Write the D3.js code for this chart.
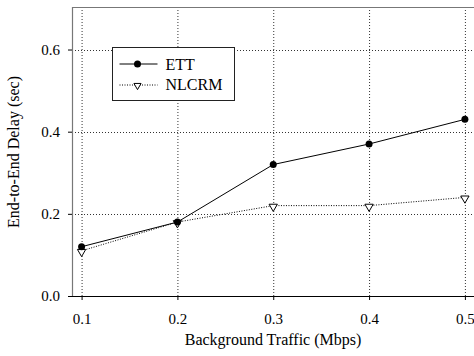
<!DOCTYPE html>
<html>
<head>
<meta charset="utf-8">
<script src="https://cdn.jsdelivr.net/npm/d3@7"></script>
<style>
  body { margin: 0; background: #fff; }
  text { font-family: "Liberation Serif", "DejaVu Serif", serif; fill: #000; }
</style>
</head>
<body>
<div id="chart"></div>
<script>
// chart data
var traffic = [0.1, 0.2, 0.3, 0.4, 0.5];
var ettDelay = [0.12, 0.18, 0.32, 0.37, 0.43];
var nlcrmDelay = [0.11, 0.18, 0.22, 0.22, 0.24];
var xTicks = [0.1, 0.2, 0.3, 0.4, 0.5];
var yTicks = [0.0, 0.2, 0.4, 0.6];

var svgWidth = 474;
var svgHeight = 356;

var margin = { top: 7, right: 0, bottom: 60, left: 72 };
var width = svgWidth - margin.left - margin.right;
var height = svgHeight - margin.top - margin.bottom;

var svg = d3.select("#chart")
  .append("svg")
  .attr("width", svgWidth)
  .attr("height", svgHeight);

var chartGroup = svg.append("g")
  .attr("transform", `translate(${margin.left}, ${margin.top})`);

var xScale = d3.scaleLinear().domain([0.09, 0.5095]).range([0, width]);
var yScale = d3.scaleLinear().domain([0, 0.7035]).range([height, 0]);

// grid lines
chartGroup.selectAll(".vgrid")
  .data(xTicks)
  .enter()
  .append("line")
  .attr("x1", d => xScale(d) + 0.5)
  .attr("x2", d => xScale(d) + 0.5)
  .attr("y1", 0)
  .attr("y2", height)
  .attr("stroke", "#333")
  .attr("stroke-dasharray", "1,2");

chartGroup.selectAll(".hgrid")
  .data(yTicks.filter(d => d > 0))
  .enter()
  .append("line")
  .attr("x1", 0)
  .attr("x2", width)
  .attr("y1", d => Math.round(yScale(d)) + 0.5)
  .attr("y2", d => Math.round(yScale(d)) + 0.5)
  .attr("stroke", "#333")
  .attr("stroke-dasharray", "1,2");

// frame (top and left)
chartGroup.append("path")
  .attr("d", `M0.5,${height} V0.5 H${width}`)
  .attr("fill", "none")
  .attr("stroke", "#777")
  .attr("stroke-width", 1.2);

// axes
var bottomAxis = d3.axisBottom(xScale)
  .tickValues(xTicks)
  .tickSize(4)
  .tickSizeOuter(0)
  .tickPadding(13)
  .tickFormat(d3.format(".1f"));

var leftAxis = d3.axisLeft(yScale)
  .tickValues(yTicks)
  .tickSize(4)
  .tickSizeOuter(0)
  .tickPadding(8)
  .tickFormat(d3.format(".1f"));

var xAxis = chartGroup.append("g")
  .attr("transform", `translate(0, ${height})`)
  .call(bottomAxis);
xAxis.select(".domain").attr("d", `M-4,0.5H${width}`).attr("stroke", "#000");
xAxis.selectAll("text").style("font-size", "15px").style("font-family", "Liberation Serif");

var yAxis = chartGroup.append("g")
  .call(leftAxis);
yAxis.select(".domain").remove();
yAxis.selectAll("text").style("font-size", "15px").style("font-family", "Liberation Serif");

// lines
var ettLine = d3.line()
  .x((d, i) => xScale(traffic[i]))
  .y(d => yScale(d));

chartGroup.append("path")
  .datum(ettDelay)
  .attr("d", ettLine)
  .attr("fill", "none")
  .attr("stroke", "#000")
  .attr("stroke-width", 1);

chartGroup.append("path")
  .datum(nlcrmDelay)
  .attr("d", ettLine)
  .attr("fill", "none")
  .attr("stroke", "#000")
  .attr("stroke-width", 1)
  .attr("stroke-dasharray", "1,1.5");

// markers
var triangle = d3.symbol().type(d3.symbolTriangle).size(30);

chartGroup.selectAll(".nlcrm")
  .data(nlcrmDelay)
  .enter()
  .append("path")
  .attr("d", triangle)
  .attr("transform", (d, i) => `translate(${xScale(traffic[i])}, ${yScale(d) + 1}) rotate(180)`)
  .attr("fill", "#fff")
  .attr("stroke", "#000")
  .attr("stroke-width", 1);

chartGroup.selectAll(".ett")
  .data(ettDelay)
  .enter()
  .append("circle")
  .attr("cx", (d, i) => xScale(traffic[i]))
  .attr("cy", d => yScale(d))
  .attr("r", 3.5)
  .attr("fill", "#000");

// legend
var legend = svg.append("g")
  .attr("transform", "translate(112.5, 47.5)");

legend.append("rect")
  .attr("width", 122)
  .attr("height", 53)
  .attr("fill", "#fff")
  .attr("stroke", "#222")
  .attr("stroke-width", 1);

legend.append("line")
  .attr("x1", 7).attr("x2", 45).attr("y1", 16.5).attr("y2", 16.5)
  .attr("stroke", "#000");
legend.append("circle")
  .attr("cx", 25).attr("cy", 16.5).attr("r", 3.5).attr("fill", "#000");
legend.append("text")
  .attr("x", 53).attr("y", 22)
  .style("font-size", "16px")
  .text("ETT");

legend.append("line")
  .attr("x1", 7).attr("x2", 45).attr("y1", 37.5).attr("y2", 37.5)
  .attr("stroke", "#000")
  .attr("stroke-dasharray", "1,1.5");
legend.append("path")
  .attr("d", d3.symbol().type(d3.symbolTriangle).size(22))
  .attr("transform", "translate(25, 38) rotate(180)")
  .attr("fill", "#fff")
  .attr("stroke", "#000");
legend.append("text")
  .attr("x", 53).attr("y", 42.5)
  .style("font-size", "16px")
  .text("NLCRM");

// axis titles
svg.append("text")
  .attr("x", 273)
  .attr("y", 345)
  .attr("text-anchor", "middle")
  .style("font-size", "16px")
  .text("Background Traffic (Mbps)");

svg.append("text")
  .attr("transform", "translate(19, 152) rotate(-90)")
  .attr("text-anchor", "middle")
  .style("font-size", "16px")
  .text("End-to-End Delay (sec)");
</script>
</body>
</html>
